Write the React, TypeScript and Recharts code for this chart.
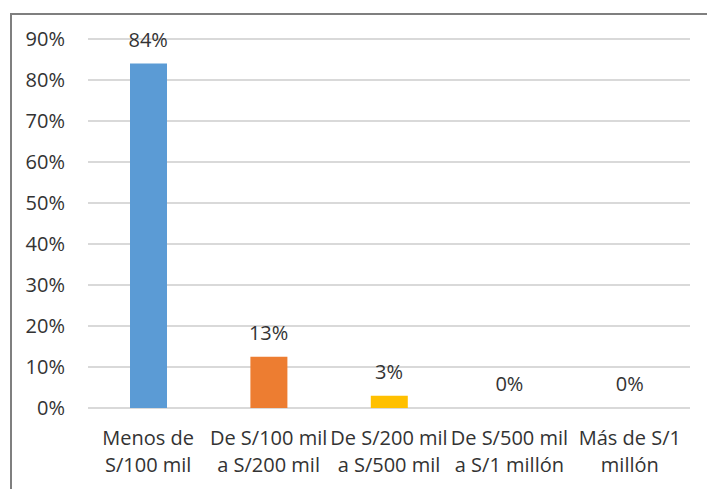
import { ComposedChart, Bar, Line, XAxis, YAxis, CartesianGrid, Cell, LabelList } from 'recharts';

// rangos de patrimonio y porcentaje de respuestas
const categories = [
  ['Menos de', 'S/100 mil'],
  ['De S/100 mil', 'a S/200 mil'],
  ['De S/200 mil', 'a S/500 mil'],
  ['De S/500 mil', 'a S/1 millón'],
  ['Más de S/1', 'millón'],
];
const values = [84, 12.5, 3, 0, 0];
const barColors = ['#5B9BD5', '#ED7D31', '#FFC000', '#A5A5A5', '#4472C4'];
const yTicks = [0, 10, 20, 30, 40, 50, 60, 70, 80, 90];

const data = categories.map((lines, i) => ({
  name: lines.join(' '),
  value: values[i],
}));

const FONT = '"Open Sans", sans-serif';
const TEXT = '#333333';
const SIZE = 20;

const CategoryTick = (props: any) => {
  const { x, y, index } = props;
  const lines = categories[index] || [];
  return (
    <text x={x} y={y + 29} textAnchor="middle" fill={TEXT} fontSize={SIZE} fontFamily={FONT}>
      {lines.map((line, i) => (
        <tspan key={i} x={x} dy={i === 0 ? 0 : 27}>
          {line}
        </tspan>
      ))}
    </text>
  );
};

export default function App() {
  return (
    <div style={{ position: 'absolute', left: 0, top: 0, width: 707, height: 489, background: '#fff', overflow: 'hidden' }}>
      <div
        style={{
          position: 'absolute',
          left: 10,
          top: 13,
          width: 720,
          height: 500,
          border: '2px solid #7f7f7f',
        }}
      />
      <ComposedChart
        width={707}
        height={489}
        data={data}
        margin={{ top: 39, right: 17, left: 0, bottom: 0 }}
        barSize={37}
        style={{ position: 'absolute', left: 0, top: 0 }}
      >
        <CartesianGrid vertical={false} stroke="#D9D9D9" strokeWidth={2} />
        <XAxis
          dataKey="name"
          axisLine={false}
          tickLine={false}
          height={81}
          interval={0}
          tick={<CategoryTick />}
        />
        <YAxis
          width={88}
          domain={[0, 90]}
          ticks={yTicks}
          axisLine={false}
          tickLine={false}
          tickMargin={17}
          tickFormatter={(v: number) => `${v}%`}
          tick={{ fill: TEXT, fontSize: SIZE, fontFamily: FONT }}
        />
        <Bar dataKey="value" isAnimationActive={false}>
          {data.map((_, i) => (
            <Cell key={`cell-${i}`} fill={barColors[i]} />
          ))}
        </Bar>
        {/* etiquetas de datos, también para las barras en 0% */}
        <Line
          dataKey="value"
          stroke="none"
          dot={false}
          activeDot={false}
          legendType="none"
          isAnimationActive={false}
        >
          <LabelList
            dataKey="value"
            position="top"
            offset={17}
            formatter={(v: number) => `${Math.round(v)}%`}
            style={{ fill: TEXT, fontSize: SIZE, fontFamily: FONT }}
          />
        </Line>
      </ComposedChart>
    </div>
  );
}
